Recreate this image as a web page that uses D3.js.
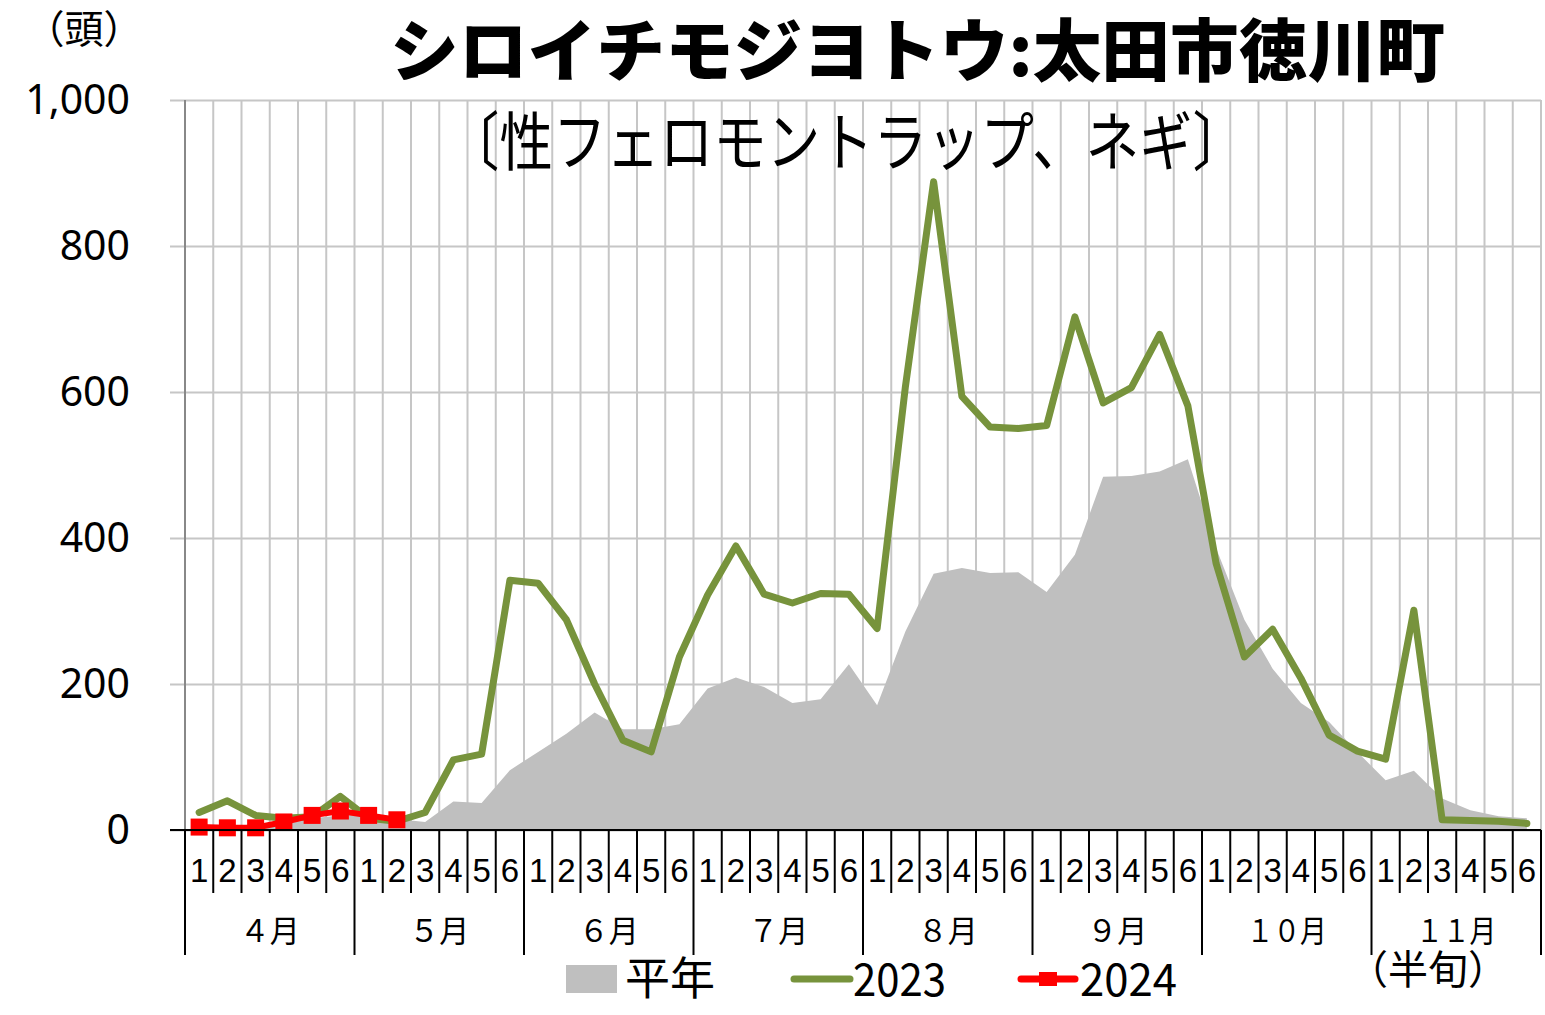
<!DOCTYPE html>
<html>
<head>
<meta charset="utf-8">
<script src="https://cdn.jsdelivr.net/npm/d3@7"></script>
<style>
  body { margin: 0; background: #fff; }
  text { font-family: "Noto Sans CJK JP", "Noto Sans", sans-serif; fill: #000; }
</style>
</head>
<body>
<div id="graphic"></div>
<script>
// half-month categories (半旬), 6 per month, April - November
var months = ["４月", "５月", "６月", "７月", "８月", "９月", "１０月", "１１月"];
var halves = ["1", "2", "3", "4", "5", "6"];

// 平年 (normal year)
var normal = [3, 5, 8, 11, 16, 20, 22, 15, 11, 39, 37, 82,
              107, 132, 161, 138, 138, 145, 194, 209, 196, 174, 179, 227,
              171, 272, 351, 359, 352, 353, 326, 377, 484, 485, 491, 508,
              386, 288, 221, 174, 148, 107, 68, 81, 43, 27, 19, 16];

// 2023
var y2023 = [24, 40, 20, 16, 18, 46, 16, 12, 24, 96, 104, 342,
             338, 288, 200, 123, 107, 237, 322, 389, 323, 311, 324, 323,
             276, 607, 888, 594, 552, 550, 554, 703, 585, 606, 679, 581,
             365, 237, 275, 208, 130, 108, 97, 301, 14, 13, 12, 9];

// 2024 (so far)
var y2024 = [4, 3, 3, 11, 20, 26, 20, 14];

var yTicks = [0, 200, 400, 600, 800, 1000];

function drawChart(){
    var w = 1545, h = 1015;
    var left = 185, right = 1541, top = 100, bottom = 830;

    var svg = d3.select("#graphic")
        .append("svg")
        .attr("width", w)
        .attr("height", h);

    var cats = d3.range(months.length * 6);
    var xScale = d3.scaleBand()
        .domain(cats)
        .range([left, right])
        .padding(0);
    var bw = xScale.bandwidth();
    var cx = function(i){ return xScale(i) + bw / 2; };

    var yScale = d3.scaleLinear()
        .domain([0, 1000])
        .range([bottom, top]);

    // horizontal gridlines + y labels
    var yAxis = svg.append("g")
        .attr("transform", "translate(" + left + ",0)")
        .call(d3.axisLeft(yScale)
            .tickValues(yTicks)
            .tickSize(-(right - left))
            .tickPadding(55)
            .tickFormat(d3.format(",")));
    yAxis.select(".domain").remove();
    yAxis.selectAll(".tick line")
        .attr("x1", -15)
        .attr("stroke", "#c6c6c6")
        .attr("stroke-width", 2);
    yAxis.selectAll(".tick text")
        .style("font-family", "'Noto Sans', sans-serif")
        .style("font-size", "41px")
        .attr("fill", "#000");

    // vertical gridlines at category boundaries
    svg.append("g").selectAll("line")
        .data(cats.slice(1).concat([cats.length]))
        .enter()
        .append("line")
        .attr("x1", function(i){ return i < cats.length ? xScale(i) : right; })
        .attr("x2", function(i){ return i < cats.length ? xScale(i) : right; })
        .attr("y1", top)
        .attr("y2", bottom)
        .attr("stroke", "#c6c6c6")
        .attr("stroke-width", 2);

    // y axis line
    svg.append("line")
        .attr("x1", left).attr("x2", left)
        .attr("y1", top).attr("y2", bottom)
        .attr("stroke", "#888")
        .attr("stroke-width", 2);

    // 平年 area
    var area = d3.area()
        .x(function(d, i){ return cx(i); })
        .y0(yScale(0))
        .y1(function(d){ return yScale(d); });
    svg.append("path")
        .datum(normal)
        .attr("d", area)
        .attr("fill", "#bfbfbf");

    // 2023 line
    var line = d3.line()
        .x(function(d, i){ return cx(i); })
        .y(function(d){ return yScale(d); });
    svg.append("path")
        .datum(y2023)
        .attr("d", line)
        .attr("fill", "none")
        .attr("stroke", "#77933c")
        .attr("stroke-width", 7)
        .attr("stroke-linejoin", "round")
        .attr("stroke-linecap", "round");

    // 2024 line + square markers
    svg.append("path")
        .datum(y2024)
        .attr("d", line)
        .attr("fill", "none")
        .attr("stroke", "#ff0000")
        .attr("stroke-width", 6);
    svg.selectAll("rect.m2024")
        .data(y2024)
        .enter()
        .append("rect")
        .attr("class", "m2024")
        .attr("x", function(d, i){ return cx(i) - 8.5; })
        .attr("y", function(d){ return yScale(d) - 8.5; })
        .attr("width", 17)
        .attr("height", 17)
        .attr("fill", "#ff0000");

    // x axis line
    svg.append("line")
        .attr("x1", left - 15).attr("x2", right)
        .attr("y1", bottom).attr("y2", bottom)
        .attr("stroke", "#000")
        .attr("stroke-width", 2);

    // category ticks (long at month boundaries)
    svg.append("g").selectAll("line")
        .data(d3.range(cats.length + 1))
        .enter()
        .append("line")
        .attr("x1", function(i){ return i < cats.length ? xScale(i) : right; })
        .attr("x2", function(i){ return i < cats.length ? xScale(i) : right; })
        .attr("y1", bottom)
        .attr("y2", function(i){ return i % 6 == 0 ? 955 : 893; })
        .attr("stroke", "#000")
        .attr("stroke-width", 2);

    // half-month numbers
    svg.append("g").selectAll("text")
        .data(cats)
        .enter()
        .append("text")
        .attr("x", function(i){ return cx(i); })
        .attr("y", 882)
        .attr("text-anchor", "middle")
        .style("font-family", "'Liberation Sans', sans-serif")
        .style("font-size", "33px")
        .text(function(i){ return halves[i % 6]; });

    // month labels
    svg.append("g").selectAll("text")
        .data(months)
        .enter()
        .append("text")
        .attr("x", function(d, m){ return xScale(m * 6 + 3); })
        .attr("y", 942)
        .attr("textLength", function(d){ return d.length > 2 ? 80 : 60; })
        .attr("lengthAdjust", "spacingAndGlyphs")
        .attr("text-anchor", "middle")
        .style("font-size", "31px")
        .text(function(d){ return d; });

    // titles
    svg.append("text")
        .attr("x", 390).attr("y", 76)
        .attr("textLength", 1055)
        .attr("lengthAdjust", "spacingAndGlyphs")
        .style("font-size", "68px")
        .style("font-weight", "900")
        .text("シロイチモジヨトウ:太田市徳川町");
    svg.append("text")
        .attr("x", 446).attr("y", 165)
        .attr("textLength", 800)
        .attr("lengthAdjust", "spacingAndGlyphs")
        .style("font-size", "64px")
        .text("〔性フェロモントラップ、ネギ〕");

    svg.append("text")
        .attr("x", 84).attr("y", 43)
        .attr("text-anchor", "middle")
        .style("font-size", "39px")
        .text("（頭）");
    svg.append("text")
        .attr("x", 1428).attr("y", 984)
        .attr("text-anchor", "middle")
        .style("font-size", "40px")
        .text("（半旬）");

    // legend
    var lg = svg.append("g");
    lg.append("rect")
        .attr("x", 566).attr("y", 965)
        .attr("width", 51).attr("height", 28)
        .attr("fill", "#bfbfbf");
    lg.append("text")
        .attr("x", 625).attr("y", 995)
        .style("font-size", "45px")
        .text("平年");
    lg.append("line")
        .attr("x1", 794).attr("x2", 850)
        .attr("y1", 979).attr("y2", 979)
        .attr("stroke", "#77933c")
        .attr("stroke-width", 7)
        .attr("stroke-linecap", "round");
    lg.append("text")
        .attr("x", 853).attr("y", 996)
        .attr("textLength", 93)
        .attr("lengthAdjust", "spacingAndGlyphs")
        .style("font-size", "45px")
        .text("2023");
    lg.append("line")
        .attr("x1", 1021).attr("x2", 1075)
        .attr("y1", 979).attr("y2", 979)
        .attr("stroke", "#ff0000")
        .attr("stroke-width", 7)
        .attr("stroke-linecap", "round");
    lg.append("rect")
        .attr("x", 1039).attr("y", 972)
        .attr("width", 18).attr("height", 14)
        .attr("fill", "#ff0000");
    lg.append("text")
        .attr("x", 1080).attr("y", 996)
        .attr("textLength", 97)
        .attr("lengthAdjust", "spacingAndGlyphs")
        .style("font-size", "45px")
        .text("2024");
}

drawChart();
</script>
</body>
</html>
